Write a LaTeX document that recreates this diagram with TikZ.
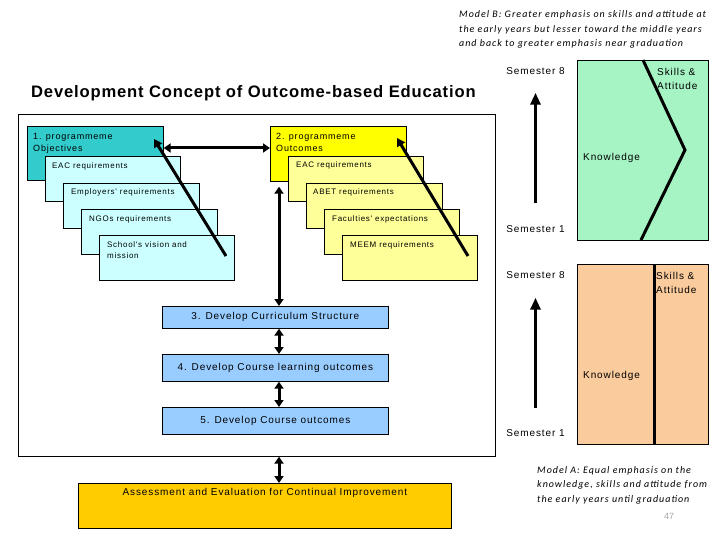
\documentclass[tikz,border=0pt]{standalone}
\usepackage{fontspec}
\setmainfont{Liberation Sans}
\newfontfamily\arialsp[LetterSpace=9]{Liberation Sans}
\newfontfamily\titlefont[LetterSpace=5]{Liberation Sans}
\newfontfamily\modelfont[LetterSpace=10]{Carlito}
\usetikzlibrary{arrows.meta}
\definecolor{teal1}{HTML}{33CCCC}
\definecolor{cyan1}{HTML}{CCFFFF}
\definecolor{yel1}{HTML}{FFFF00}
\definecolor{yel2}{HTML}{FFFF99}
\definecolor{blue1}{HTML}{99CCFF}
\definecolor{gold1}{HTML}{FFCC00}
\definecolor{green1}{HTML}{A6F3C4}
\definecolor{peach1}{HTML}{FACB9C}
\begin{document}
\begin{tikzpicture}[x=1pt,y=-1pt,
  box/.style={draw=black, line width=0.7pt, inner sep=0pt, anchor=north west},
  hdtxt/.style={font=\arialsp\fontsize{9}{12.5}\selectfont, anchor=north west, inner sep=0pt, align=left},
  reqtxt/.style={font=\arialsp\fontsize{8}{11}\selectfont, anchor=north west, inner sep=0pt, align=left},
  midtxt/.style={font=\arialsp\fontsize{10}{12}\selectfont, inner sep=0pt},
  modeltxt/.style={font=\modelfont\itshape\fontsize{10}{14.5}\selectfont, anchor=north west, inner sep=0pt, align=left},
  dbl/.style={line width=3pt, {Triangle[width=9pt,length=7pt]}-{Triangle[width=9pt,length=7pt]}},
  sgl/.style={line width=3pt, -{Triangle[width=9pt,length=8pt]}},
  semarr/.style={line width=3pt, -{Triangle[width=10pt,length=12pt]}},
  thickline/.style={line width=3pt}
]
\useasboundingbox (0,0) rectangle (720,540);

% title
\node[font=\titlefont\bfseries\fontsize{16.6}{18}\selectfont, anchor=west, inner sep=0pt] (title) at (31,93) {Development Concept of Outcome-based Education};

% main frame
\node[box, fill=white, minimum width=477pt, minimum height=342pt] (frame) at (18,114) {};

% left stack
\node[box, fill=teal1, minimum width=136pt, minimum height=54pt] (po) at (27,126) {};
\node[hdtxt] at ([shift={(6,7)}]po.north west) {1. programmeme\\Objectives};
\node[box, fill=cyan1, minimum width=135pt, minimum height=45pt] (eacL) at (45,156) {};
\node[reqtxt] at ([shift={(7,7)}]eacL.north west) {EAC requirements};
\node[box, fill=cyan1, minimum width=136pt, minimum height=45pt] (empL) at (63,183) {};
\node[reqtxt] at ([shift={(8,6)}]empL.north west) {Employers' requirements};
\node[box, fill=cyan1, minimum width=136pt, minimum height=45pt] (ngoL) at (81,209) {};
\node[reqtxt] at ([shift={(8,7)}]ngoL.north west) {NGOs requirements};
\node[box, fill=cyan1, minimum width=135pt, minimum height=45pt] (schL) at (99,235) {};
\node[reqtxt] at ([shift={(8,7)}]schL.north west) {School's vision and\\mission};

% right stack
\node[box, fill=yel1, minimum width=136pt, minimum height=55pt] (po2) at (270,126) {};
\node[hdtxt] at ([shift={(6,7)}]po2.north west) {2. programmeme\\Outcomes};
\node[box, fill=yel2, minimum width=135pt, minimum height=45pt] (eacR) at (288,156) {};
\node[reqtxt] at ([shift={(8,6)}]eacR.north west) {EAC requirements};
\node[box, fill=yel2, minimum width=136pt, minimum height=45pt] (abet) at (306,183) {};
\node[reqtxt] at ([shift={(7,6)}]abet.north west) {ABET requirements};
\node[box, fill=yel2, minimum width=135pt, minimum height=45pt] (fac) at (324,209) {};
\node[reqtxt] at ([shift={(8,7)}]fac.north west) {Faculties' expectations};
\node[box, fill=yel2, minimum width=135pt, minimum height=45pt] (meem) at (342,235) {};
\node[reqtxt] at ([shift={(8,7)}]meem.north west) {MEEM requirements};

% diagonal arrows
\coordinate (dl1) at (226,256); \coordinate (dl2) at (154,139);
\draw[sgl] (dl1) -- (dl2);
\coordinate (dr1) at (468,256); \coordinate (dr2) at (397,138);
\draw[sgl] (dr1) -- (dr2);

% horizontal double arrow
\coordinate (hy) at (0,148);
\draw[dbl] (po.east |- hy) -- (po2.west |- hy);

% process boxes
\node[box, fill=blue1, minimum width=226pt, minimum height=22pt, midtxt, anchor=north west] (st3) at (162,306) {3. Develop Curriculum Structure};
\node[box, fill=blue1, minimum width=226pt, minimum height=27pt, midtxt, anchor=north west] (st4) at (162,354) {\raisebox{2pt}{4. Develop Course learning outcomes}};
\node[box, fill=blue1, minimum width=226pt, minimum height=27pt, midtxt, anchor=north west] (st5) at (162,407) {\raisebox{2pt}{5. Develop Course outcomes}};
\node[box, fill=gold1, minimum width=373pt, minimum height=45pt] (assess) at (78,483) {};
\node[midtxt] at ([yshift=-10pt]assess.north) {Assessment and Evaluation for Continual Improvement};

\coordinate (vx) at (279,0);
\draw[dbl, shorten <=5pt] (vx |- po2.south) -- (vx |- st3.north);
\draw[dbl] (vx |- st3.south) -- (vx |- st4.north);
\draw[dbl] (vx |- st4.south) -- (vx |- st5.north);
\draw[dbl] (vx |- frame.south) -- (vx |- assess.north);

% Model B
\node[modeltxt] (mb) at (459,10.5) {Model B: Greater emphasis on skills and attitude at\\the early years but lesser toward the middle years\\and back to greater emphasis near graduation};
\node[midtxt] (s8b) at (535.5,71) {Semester 8};
\node[midtxt] (s1b) at (535.5,229) {Semester 1};
\draw[semarr, shorten <=22pt, shorten >=18pt] (s1b) -- (s8b);
\node[box, fill=green1, minimum width=131pt, minimum height=180pt] (gbox) at (577,60) {};
\coordinate (z1) at (643,60); \coordinate (z2) at (685,150); \coordinate (z3) at (641,240);
\draw[thickline] (z1) -- (z2) -- (z3);
\node[midtxt, anchor=west] at (583,158) {Knowledge};
\node[midtxt, anchor=west, align=left, font=\arialsp\fontsize{10}{14}\selectfont] at (657,79) {Skills \&\\Attitude};

% Model A
\node[midtxt] (s8a) at (535.5,275) {Semester 8};
\node[midtxt] (s1a) at (535.5,433) {Semester 1};
\draw[semarr, shorten <=21pt, shorten >=19pt] (s1a) -- (s8a);
\node[box, fill=peach1, minimum width=131pt, minimum height=180pt] (pbox) at (577,264) {};
\coordinate (px) at (654,0);
\draw[thickline] (px |- pbox.north) -- (px |- pbox.south);
\node[midtxt, anchor=west] at (583,376) {Knowledge};
\node[midtxt, anchor=west, align=left, font=\arialsp\fontsize{10}{14}\selectfont] at (656,282.5) {Skills \&\\Attitude};
\node[modeltxt] (ma) at (537,466) {Model A: Equal emphasis on the\\knowledge, skills and attitude from\\the early years until graduation};
\node[font=\fontsize{9}{10}\selectfont, text=gray!70, inner sep=0pt] (pg) at (669,516) {47};
\end{tikzpicture}
\end{document}
